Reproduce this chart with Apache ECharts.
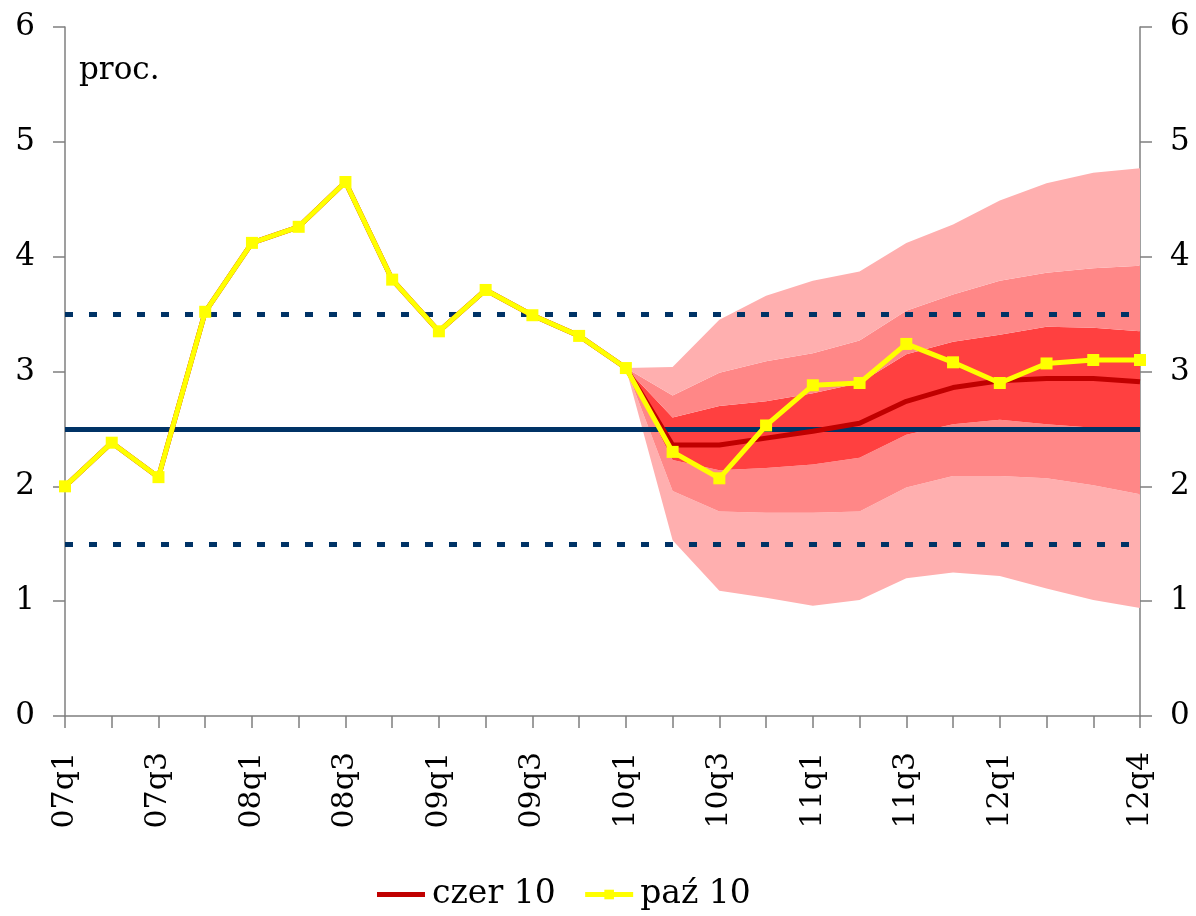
<!DOCTYPE html>
<html>
<head>
<meta charset="utf-8">
<script src="https://cdn.jsdelivr.net/npm/echarts@6/dist/echarts.min.js"></script>
<style>
  html, body { margin: 0; padding: 0; background: #fff; }
  #chart { width: 1196px; height: 916px; }
</style>
</head>
<body>
<div id="chart"></div>
<script>
// kwartały
const quarters = [
  '07q1', '07q2', '07q3', '07q4', '08q1', '08q2', '08q3', '08q4',
  '09q1', '09q2', '09q3', '09q4', '10q1', '10q2', '10q3', '10q4',
  '11q1', '11q2', '11q3', '11q4', '12q1', '12q2', '12q3', '12q4'
];

// projekcja z czerwca (ścieżka centralna) + dane historyczne
const czer10 = [
  2.0, 2.38, 2.08, 3.52, 4.12, 4.26, 4.65, 3.80,
  3.35, 3.71, 3.49, 3.31, 3.03, 2.36, 2.36, 2.42,
  2.48, 2.55, 2.74, 2.86, 2.92, 2.94, 2.94, 2.91
];

// projekcja z października
const paz10 = [
  2.0, 2.38, 2.08, 3.52, 4.12, 4.26, 4.65, 3.80,
  3.35, 3.71, 3.49, 3.31, 3.03, 2.30, 2.07, 2.53,
  2.88, 2.90, 3.24, 3.08, 2.90, 3.07, 3.10, 3.10
];

// granice wachlarza (od 10q1)
const outerLow  = [3.03, 1.53, 1.09, 1.03, 0.96, 1.01, 1.20, 1.25, 1.22, 1.11, 1.01, 0.94];
const midLow    = [3.03, 1.96, 1.78, 1.77, 1.77, 1.78, 1.99, 2.09, 2.09, 2.07, 2.01, 1.93];
const innerLow  = [3.03, 2.23, 2.14, 2.16, 2.19, 2.25, 2.45, 2.54, 2.58, 2.54, 2.51, 2.48];
const innerHigh = [3.03, 2.60, 2.70, 2.74, 2.81, 2.90, 3.15, 3.26, 3.32, 3.39, 3.38, 3.35];
const midHigh   = [3.03, 2.79, 2.99, 3.09, 3.16, 3.27, 3.53, 3.67, 3.79, 3.86, 3.90, 3.92];
const outerHigh = [3.03, 3.04, 3.45, 3.66, 3.79, 3.87, 4.12, 4.28, 4.49, 4.64, 4.73, 4.77];

// cel inflacyjny i pasmo odchyleń
const target = 2.5;
const bandUpper = 3.5;
const bandLower = 1.5;

const FONT = '"DejaVu Serif", serif';
const fanStart = quarters.indexOf('10q1');

// różnice do warstw skumulowanych
const pad = new Array(fanStart).fill('-');
const diff = (hi, lo) => pad.concat(hi.map((v, i) => +(v - lo[i]).toFixed(3)));

const fanLayers = [
  { data: pad.concat(outerLow), color: 'transparent' },
  { data: diff(midLow, outerLow), color: '#FFAFAF' },
  { data: diff(innerLow, midLow), color: '#FF8787' },
  { data: diff(innerHigh, innerLow), color: '#FF4040' },
  { data: diff(midHigh, innerHigh), color: '#FF8787' },
  { data: diff(outerHigh, midHigh), color: '#FFAFAF' }
];

const shownLabels = (idx) => (idx % 2 === 0 && idx < 22) || idx === quarters.length - 1;

const yAxisBase = {
  type: 'value',
  min: 0,
  max: 6,
  interval: 1,
  splitLine: { show: false },
  axisLine: { show: true, lineStyle: { color: '#7f7f7f', width: 1.5 } },
  axisTick: { show: true, length: 12, lineStyle: { color: '#7f7f7f', width: 1.5 } },
  axisLabel: { color: '#000', fontFamily: FONT, fontSize: 31, margin: 30 }
};

const chart = echarts.init(document.getElementById('chart'));

chart.setOption({
  animation: false,
  backgroundColor: '#fff',
  title: {
    text: 'proc.',
    left: 74,
    top: 50,
    textStyle: { fontFamily: FONT, fontSize: 31, fontWeight: 'normal', color: '#000' }
  },
  grid: { left: 65, right: 56, top: 27, bottom: 200 },
  legend: {
    data: [
      { name: 'czer 10', icon: 'path://M0,0H48V5H0Z', itemStyle: { color: '#C00000' } },
      { name: 'paź 10', lineStyle: { width: 5 } }
    ],
    left: 372,
    top: 873,
    itemWidth: 48,
    itemHeight: 12,
    itemGap: 27,
    textStyle: { fontFamily: FONT, fontSize: 33, color: '#000', padding: [0, 0, 0, 2] }
  },
  xAxis: {
    type: 'category',
    data: quarters,
    boundaryGap: false,
    axisLine: { lineStyle: { color: '#7f7f7f', width: 1.5 } },
    axisTick: { interval: 0, length: 12, lineStyle: { color: '#7f7f7f', width: 1.5 } },
    axisLabel: {
      interval: shownLabels,
      rotate: 90,
      margin: 36,
      color: '#000',
      fontFamily: FONT,
      fontSize: 30
    }
  },
  yAxis: [
    Object.assign({}, yAxisBase, { position: 'left' }),
    Object.assign({}, yAxisBase, { position: 'right' })
  ],
  series: [
    ...fanLayers.map((layer, i) => ({
      name: 'fan' + i,
      type: 'line',
      stack: 'fan',
      data: layer.data,
      symbol: 'none',
      silent: true,
      z: 1,
      lineStyle: { width: 0 },
      areaStyle: i === 0 ? undefined : { color: layer.color, opacity: 1 }
    })),
    {
      name: 'cel',
      type: 'line',
      data: [],
      z: 3,
      markLine: {
        silent: true,
        symbol: 'none',
        z: 3,
        label: { show: false },
        data: [
          { yAxis: target, lineStyle: { color: '#003366', width: 5, type: 'solid' } },
          { yAxis: bandUpper, lineStyle: { color: '#003366', width: 5, type: [8, 16] } },
          { yAxis: bandLower, lineStyle: { color: '#003366', width: 5, type: [8, 16] } }
        ]
      }
    },
    {
      name: 'czer 10',
      type: 'line',
      data: czer10,
      z: 4,
      symbol: 'none',
      color: '#C00000',
      lineStyle: { color: '#C00000', width: 5 }
    },
    {
      name: 'paź 10',
      type: 'line',
      data: paz10,
      z: 5,
      symbol: 'rect',
      symbolSize: 12,
      color: '#FFFF00',
      itemStyle: { color: '#FFFF00' },
      lineStyle: { color: '#FFFF00', width: 5 }
    }
  ]
});

window.addEventListener('resize', () => chart.resize());
</script>
</body>
</html>
